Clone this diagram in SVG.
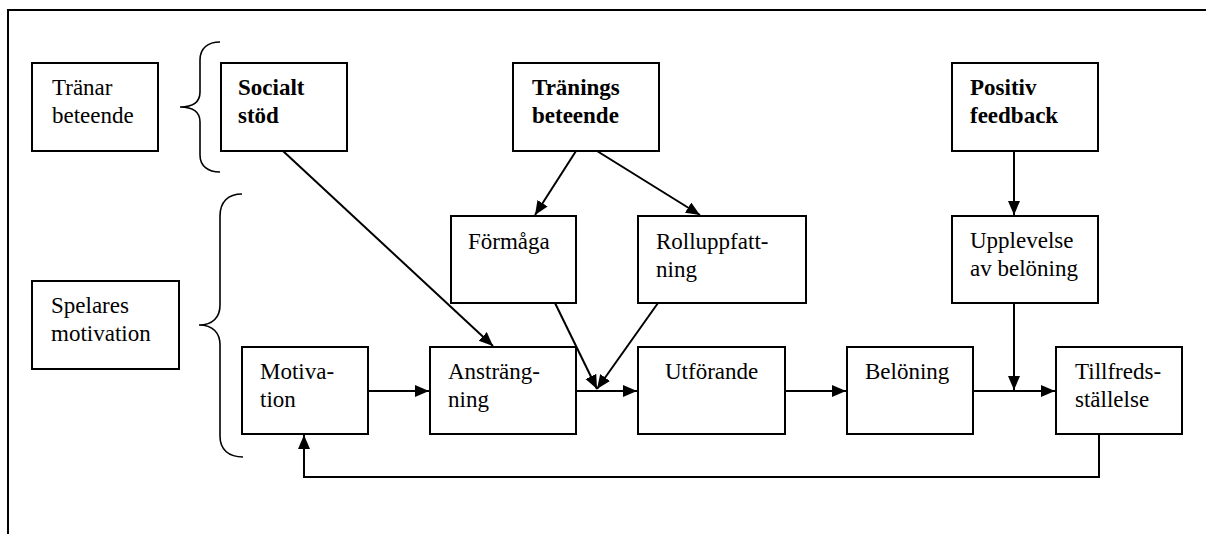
<svg xmlns="http://www.w3.org/2000/svg" width="1206" height="534" viewBox="0 0 1206 534">
  <style>
    .box { fill: #fff; stroke: #000; stroke-width: 2; }
    .lbl { font-family: "Liberation Serif", "Times New Roman", serif; font-size: 23px; fill: #000; }
    .bold { font-weight: bold; }
    .edge { fill: none; stroke: #000; stroke-width: 2; }
    .brace { fill: none; stroke: #000; stroke-width: 1.6; }
    .frame { fill: none; stroke: #000; stroke-width: 2; }
  </style>
  <defs>
    <marker id="arrow" markerUnits="userSpaceOnUse" markerWidth="15" markerHeight="13" refX="14" refY="6" orient="auto">
      <path d="M0,0 L14,6 L0,12 z" fill="#000"/>
    </marker>
  </defs>

  <rect width="1206" height="534" fill="#fff"/>

  <!-- page frame: top and left edges -->
  <path class="frame" d="M8,534 L8,10 L1206,10"/>

  <!-- grouping braces -->
  <path class="brace" d="M220,42 C208,42 200,48 200,60 L200,92 C200,101 194,107 180,107 C194,107 200,113 200,122 L200,155 C200,166 208,172 220,172"/>
  <path class="brace" d="M242,194 C228,194 220,202 220,216 L220,305 C220,317 213,325 199,325 C213,325 220,333 220,345 L220,436 C220,450 229,457 243,457"/>

  <!-- connectors -->
  <g id="connectors">
    <line class="edge" x1="283" y1="151" x2="493" y2="346" marker-end="url(#arrow)"/>
    <line class="edge" x1="576" y1="151" x2="535" y2="215" marker-end="url(#arrow)"/>
    <line class="edge" x1="597" y1="151" x2="700" y2="215" marker-end="url(#arrow)"/>
    <line class="edge" x1="1014" y1="151" x2="1014" y2="215" marker-end="url(#arrow)"/>
    <line class="edge" x1="555" y1="303" x2="597" y2="389" marker-end="url(#arrow)"/>
    <line class="edge" x1="658" y1="303" x2="597" y2="389" marker-end="url(#arrow)"/>
    <line class="edge" x1="1014" y1="303" x2="1014" y2="390" marker-end="url(#arrow)"/>
    <line class="edge" x1="368" y1="391" x2="429" y2="391" marker-end="url(#arrow)"/>
    <line class="edge" x1="576" y1="391" x2="637" y2="391" marker-end="url(#arrow)"/>
    <line class="edge" x1="785" y1="391" x2="846" y2="391" marker-end="url(#arrow)"/>
    <line class="edge" x1="973" y1="391" x2="1055" y2="391" marker-end="url(#arrow)"/>
    <path class="edge" d="M1099,434 L1099,477 L304,477 L304,435" marker-end="url(#arrow)"/>
  </g>

  <!-- top row -->
  <g id="tranar-beteende">
    <rect class="box" x="32" y="63" width="126" height="88"/>
    <text class="lbl" x="52" y="95">Tränar</text>
    <text class="lbl" x="52" y="123">beteende</text>
  </g>
  <g id="socialt-stod">
    <rect class="box" x="221" y="63" width="126" height="88"/>
    <text class="lbl bold" x="238" y="95">Socialt</text>
    <text class="lbl bold" x="238" y="123">stöd</text>
  </g>
  <g id="tranings-beteende">
    <rect class="box" x="513" y="63" width="146" height="88"/>
    <text class="lbl bold" x="532" y="95">Tränings</text>
    <text class="lbl bold" x="532" y="123">beteende</text>
  </g>
  <g id="positiv-feedback">
    <rect class="box" x="952" y="63" width="146" height="88"/>
    <text class="lbl bold" x="970" y="95">Positiv</text>
    <text class="lbl bold" x="970" y="123">feedback</text>
  </g>

  <!-- middle row -->
  <g id="formaga">
    <rect class="box" x="451" y="216" width="125" height="87"/>
    <text class="lbl" x="468" y="249">Förmåga</text>
  </g>
  <g id="rolluppfattning">
    <rect class="box" x="638" y="216" width="168" height="87"/>
    <text class="lbl" x="656" y="249">Rolluppfatt-</text>
    <text class="lbl" x="656" y="277">ning</text>
  </g>
  <g id="upplevelse">
    <rect class="box" x="952" y="216" width="146" height="87"/>
    <text class="lbl" x="970" y="248">Upplevelse</text>
    <text class="lbl" x="970" y="276">av belöning</text>
  </g>
  <g id="spelares-motivation">
    <rect class="box" x="32" y="281" width="147" height="88"/>
    <text class="lbl" x="51" y="313">Spelares</text>
    <text class="lbl" x="51" y="341">motivation</text>
  </g>

  <!-- bottom row -->
  <g id="motivation">
    <rect class="box" x="242" y="347" width="126" height="87"/>
    <text class="lbl" x="260" y="379">Motiva-</text>
    <text class="lbl" x="260" y="407">tion</text>
  </g>
  <g id="anstrangning">
    <rect class="box" x="430" y="347" width="146" height="87"/>
    <text class="lbl" x="448" y="379">Ansträng-</text>
    <text class="lbl" x="448" y="407">ning</text>
  </g>
  <g id="utforande">
    <rect class="box" x="638" y="347" width="147" height="87"/>
    <text class="lbl" x="665" y="379">Utförande</text>
  </g>
  <g id="beloning">
    <rect class="box" x="847" y="347" width="126" height="87"/>
    <text class="lbl" x="865" y="379">Belöning</text>
  </g>
  <g id="tillfredsstallelse">
    <rect class="box" x="1056" y="347" width="126" height="87"/>
    <text class="lbl" x="1075" y="379">Tillfreds-</text>
    <text class="lbl" x="1075" y="407">ställelse</text>
  </g>
</svg>
